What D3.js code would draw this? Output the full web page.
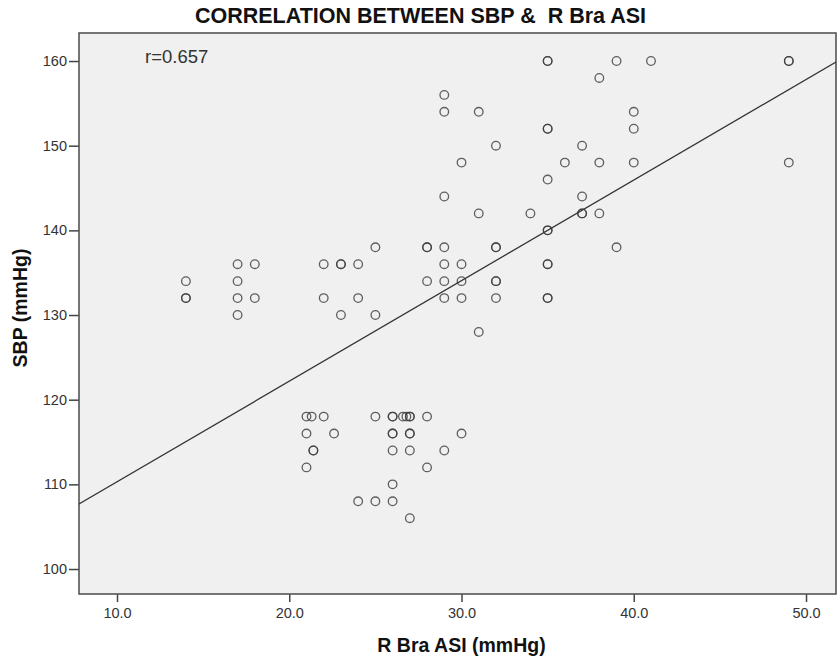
<!DOCTYPE html>
<meta charset="utf-8" />
<style>
  body { margin: 0; background: #fff; }
  text { font-family: Arial, "Liberation Sans", sans-serif; }
</style>
<body>
  <!-- load the d3.js library -->
  <script src="https://d3js.org/d3.v7.min.js"></script>
  <script>
    // scatter data: R Bra ASI (x) vs SBP (y)
    const asi = [
      35, 35, 39, 41, 49, 49,
      38,
      29,
      29, 31, 40,
      35, 35, 40,
      32, 37,
      30, 36, 38, 40, 49,
      35,
      29, 37,
      31, 34, 37, 37, 38,
      35, 35,
      25, 28, 28, 29, 32, 32, 39,
      17, 18, 22, 23, 23, 24, 29, 30, 35, 35,
      14, 17, 28, 29, 30, 32, 32,
      14, 14, 17, 18, 22, 24, 29, 30, 32, 35, 35,
      17, 23, 25,
      31,
      21, 21.3, 22, 25, 26, 26, 26.6, 26.8, 27, 27, 28,
      21, 22.6, 26, 26, 27, 27, 30,
      21.4, 21.4, 26, 27, 29,
      21, 28,
      26,
      24, 25, 26,
      27
    ];
    const sbp = [
      160, 160, 160, 160, 160, 160,
      158,
      156,
      154, 154, 154,
      152, 152, 152,
      150, 150,
      148, 148, 148, 148, 148,
      146,
      144, 144,
      142, 142, 142, 142, 142,
      140, 140,
      138, 138, 138, 138, 138, 138, 138,
      136, 136, 136, 136, 136, 136, 136, 136, 136, 136,
      134, 134, 134, 134, 134, 134, 134,
      132, 132, 132, 132, 132, 132, 132, 132, 132, 132, 132,
      130, 130, 130,
      128,
      118, 118, 118, 118, 118, 118, 118, 118, 118, 118, 118,
      116, 116, 116, 116, 116, 116, 116,
      114, 114, 114, 114, 114,
      112, 112,
      110,
      108, 108, 108,
      106
    ];

    // fit line
    const fitIntercept = 98.42;
    const fitSlope = 1.188;
    const rLabel = "r=0.657";

    const xTicks = [10, 20, 30, 40, 50];
    const yTicks = [100, 110, 120, 130, 140, 150, 160];

    const titleText = "CORRELATION BETWEEN SBP &  R Bra ASI";
    const xTitle = "R Bra ASI (mmHg)";
    const yTitle = "SBP (mmHg)";

    // dimensions
    const W = 837, H = 664;
    const plot = { left: 79, top: 33, right: 836, bottom: 594 };

    const svg = d3.select("body")
      .append("svg")
      .attr("width", W)
      .attr("height", H);

    const x = d3.scaleLinear()
      .domain([7.794, 51.74])
      .range([plot.left, plot.right]);

    const y = d3.scaleLinear()
      .domain([97.05, 163.31])
      .range([plot.bottom, plot.top]);

    // plot background
    svg.append("rect")
      .attr("x", plot.left)
      .attr("y", plot.top)
      .attr("width", plot.right - plot.left)
      .attr("height", plot.bottom - plot.top)
      .attr("fill", "#f0f0f0");

    // axes
    const xAxis = svg.append("g")
      .attr("transform", "translate(0," + plot.bottom + ")")
      .call(d3.axisBottom(x).tickValues(xTicks).tickFormat(d3.format(".1f")).tickSizeInner(8).tickSizeOuter(0).tickPadding(6));
    const yAxis = svg.append("g")
      .attr("transform", "translate(" + plot.left + ",0)")
      .call(d3.axisLeft(y).tickValues(yTicks).tickSizeInner(10).tickSizeOuter(0).tickPadding(2));

    [xAxis, yAxis].forEach(function (g) {
      g.select(".domain").remove();
      g.selectAll(".tick line").attr("stroke", "#444").attr("stroke-width", 1.5);
      g.selectAll(".tick text")
        .attr("fill", "#333")
        .style("font-size", "14.5px")
        .style("font-family", "Arial, 'Liberation Sans', sans-serif");
    });

    // frame
    svg.append("rect")
      .attr("x", plot.left)
      .attr("y", plot.top)
      .attr("width", plot.right - plot.left)
      .attr("height", plot.bottom - plot.top)
      .attr("fill", "none")
      .attr("stroke", "#555")
      .attr("stroke-width", 1.6);

    // clip for the fit line
    svg.append("clipPath").attr("id", "clip")
      .append("rect")
      .attr("x", plot.left)
      .attr("y", plot.top)
      .attr("width", plot.right - plot.left)
      .attr("height", plot.bottom - plot.top);

    const xd = x.domain();
    svg.append("line")
      .attr("clip-path", "url(#clip)")
      .attr("x1", x(xd[0]))
      .attr("y1", y(fitIntercept + fitSlope * xd[0]))
      .attr("x2", x(xd[1]))
      .attr("y2", y(fitIntercept + fitSlope * xd[1]))
      .attr("stroke", "#333")
      .attr("stroke-width", 1.3);

    // points
    svg.append("g")
      .selectAll("circle")
      .data(d3.range(asi.length))
      .join("circle")
      .attr("cx", function (i) { return x(asi[i]); })
      .attr("cy", function (i) { return y(sbp[i]); })
      .attr("r", 4.3)
      .attr("fill", "none")
      .attr("stroke", "#3a3a3a")
      .attr("stroke-opacity", 0.8)
      .attr("stroke-width", 1.3);

    // r label
    svg.append("text")
      .attr("x", 145)
      .attr("y", 63)
      .attr("fill", "#333")
      .style("font-size", "18.5px")
      .text(rLabel);

    // title
    svg.append("text")
      .attr("x", 420.5)
      .attr("y", 23)
      .attr("text-anchor", "middle")
      .attr("fill", "#111")
      .style("font-size", "21.5px")
      .style("font-weight", "bold")
      .style("white-space", "pre")
      .text(titleText);

    // x axis title
    svg.append("text")
      .attr("x", 461.5)
      .attr("y", 652)
      .attr("text-anchor", "middle")
      .attr("fill", "#111")
      .style("font-size", "19.5px")
      .style("font-weight", "bold")
      .text(xTitle);

    // y axis title
    svg.append("text")
      .attr("transform", "translate(27,308) rotate(-90)")
      .attr("text-anchor", "middle")
      .attr("fill", "#111")
      .style("font-size", "19.5px")
      .style("font-weight", "bold")
      .text(yTitle);
  </script>
</body>
